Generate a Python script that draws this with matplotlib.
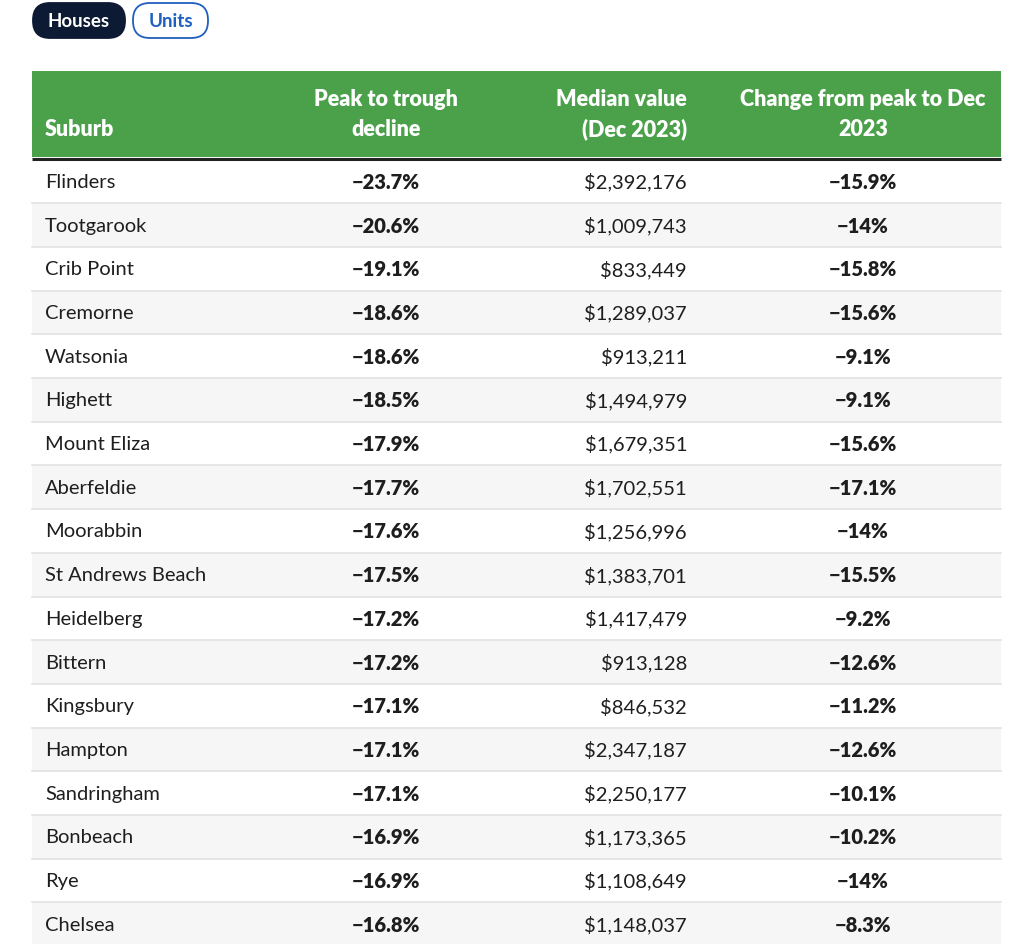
import matplotlib
matplotlib.use("Agg")
import matplotlib.pyplot as plt
from matplotlib.patches import FancyBboxPatch, Rectangle

# table data
suburbs = ["Flinders", "Tootgarook", "Crib Point", "Cremorne", "Watsonia", "Highett",
           "Mount Eliza", "Aberfeldie", "Moorabbin", "St Andrews Beach", "Heidelberg",
           "Bittern", "Kingsbury", "Hampton", "Sandringham", "Bonbeach", "Rye", "Chelsea"]
peak_to_trough = [-23.7, -20.6, -19.1, -18.6, -18.6, -18.5, -17.9, -17.7, -17.6, -17.5,
                  -17.2, -17.2, -17.1, -17.1, -17.1, -16.9, -16.9, -16.8]
median_value = [2392176, 1009743, 833449, 1289037, 913211, 1494979, 1679351, 1702551,
                1256996, 1383701, 1417479, 913128, 846532, 2347187, 2250177, 1173365,
                1108649, 1148037]
change_from_peak = [-15.9, -14, -15.8, -15.6, -9.1, -9.1, -15.6, -17.1, -14, -15.5,
                    -9.2, -12.6, -11.2, -12.6, -10.1, -10.2, -14, -8.3]
headers = ["Suburb", "Peak to trough\ndecline", "Median value\n(Dec 2023)",
           "Change from peak to Dec\n2023"]
tabs = ["Houses", "Units"]

FONT = ["Lato", "DejaVu Sans"]
GREEN = "#4ba04a"
NAVY = "#0c1a33"
BLUE = "#1f5fbf"
TEXT = "#1e1e1e"

fig = plt.figure(figsize=(10.24, 9.45), dpi=100, facecolor="white")
ax = fig.add_axes([0, 0, 1, 1])
ax.set_xlim(0, 1024)
ax.set_ylim(945, 0)
ax.axis("off")


def pct(v):
    s = ("%.1f" % abs(v)).rstrip("0").rstrip(".")
    return "\u2212" + s + "%"


# tab buttons
tab_x = [(33, 125), (133, 208)]
for i, (name, (x0, x1)) in enumerate(zip(tabs, tab_x)):
    active = i == 0
    ax.add_patch(FancyBboxPatch((x0, 4), x1 - x0, 35,
                                boxstyle="round,pad=0,rounding_size=17",
                                fc=NAVY if active else "white",
                                ec=NAVY if active else BLUE, lw=1.3))
    ax.text((x0 + x1) / 2, 21.5, name, ha="center", va="center", fontsize=13.5,
            fontweight="bold", color="white" if active else BLUE, family=FONT)

# table geometry
left, right = 32, 1001
head_top, head_bot = 72, 158
row_h = 43.7
col_pos = [45, 386, 687, 863]
col_ha = ["left", "center", "right", "center"]

ax.add_patch(Rectangle((left, head_top), right - left, head_bot - head_top,
                       fc=GREEN, ec="none"))
ax.plot([left, right], [head_bot + 1.5, head_bot + 1.5], color="#222222", lw=2.2,
        solid_capstyle="butt")

for j, h in enumerate(headers):
    lines = h.split("\n")
    if len(lines) == 1:
        ax.text(col_pos[j], 130, h, ha=col_ha[j], va="center", fontsize=15.5,
                fontweight="heavy", color="white", family=FONT)
    else:
        for k, ln in enumerate(lines):
            ax.text(col_pos[j], 99 + 30 * k, ln, ha=col_ha[j], va="center",
                    fontsize=15.5, fontweight="heavy", color="white", family=FONT)

y0 = head_bot + 2.5
for i, name in enumerate(suburbs):
    top = y0 + i * row_h
    if i % 2 == 1:
        ax.add_patch(Rectangle((left, top), right - left, row_h, fc="#f6f6f6", ec="none"))
    if i > 0:
        ax.plot([left, right], [top, top], color="#e2e2e2", lw=1.2)
    cy = top + row_h / 2
    vals = [name, pct(peak_to_trough[i]), "${:,}".format(median_value[i]),
            pct(change_from_peak[i])]
    weights = ["normal", "heavy", "normal", "heavy"]
    for j, v in enumerate(vals):
        ax.text(col_pos[j], cy, v, ha=col_ha[j], va="center", fontsize=14.5,
                fontweight=weights[j], color=TEXT, family=FONT)

fig.savefig("out.png", dpi=100, facecolor="white")
